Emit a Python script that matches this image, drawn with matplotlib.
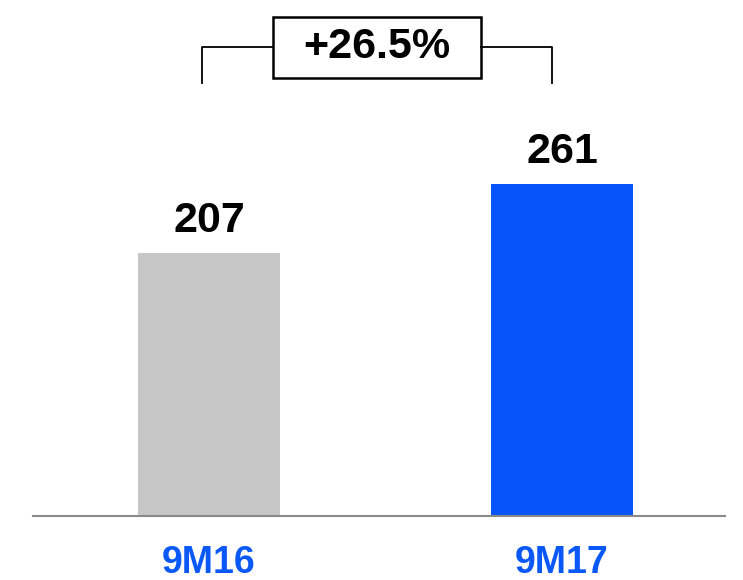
import matplotlib
matplotlib.use("Agg")
import matplotlib.pyplot as plt
from matplotlib.patches import Rectangle

plt.rcParams["font.family"] = ["Liberation Sans", "DejaVu Sans"]

periods = ["9M16", "9M17"]
values = [207, 261]
growth_label = "+26.5%"
bar_colors = ["#C6C6C6", "#0755FA"]
label_color = "#0A58F5"

fig = plt.figure(figsize=(7.43, 5.80), dpi=100)
ax = fig.add_axes([33 / 743, 64 / 580, 692 / 743, 516 / 580])

x = range(len(values))
ax.bar(x, values, width=0.402, color=bar_colors, zorder=2)
ax.set_xlim(-0.4986, 1.4618)
ax.set_ylim(0, 406)

# value labels above bars
for xi, v in zip(x, values):
    ax.annotate(f"{v}", (xi, v), xytext=(0, 15), textcoords="offset points",
                ha="center", va="baseline", fontsize=31, fontweight="bold")

# category labels under the axis
for xi, name in zip(x, periods):
    ax.annotate(name, (xi, 0), xytext=(0, -34), textcoords="offset points",
                ha="center", va="center", fontsize=27, fontweight="bold",
                color=label_color, annotation_clip=False)

# baseline only
for s in ("top", "right", "left"):
    ax.spines[s].set_visible(False)
ax.spines["bottom"].set_color("#8A8A8A")
ax.spines["bottom"].set_linewidth(1.5)
ax.set_xticks([])
ax.set_yticks([])

# growth bracket with boxed label
xl, xr = -0.02, 0.972
y_top, y_bot = 369, 341
mid = (xl + xr) / 2
bw, bh = 0.589, 48
kw = dict(color="black", lw=1.3, clip_on=False)
ax.plot([xl, xl, mid - bw / 2], [y_bot, y_top, y_top], **kw)
ax.plot([mid + bw / 2, xr, xr], [y_top, y_top, y_bot], **kw)
ax.add_patch(Rectangle((mid - bw / 2, y_top - bh / 2), bw, bh, fill=False,
                       edgecolor="black", lw=1.8, clip_on=False))
ax.text(mid, y_top, growth_label, ha="center", va="center",
        fontsize=31, fontweight="bold")

fig.savefig("out.png", dpi=100)
